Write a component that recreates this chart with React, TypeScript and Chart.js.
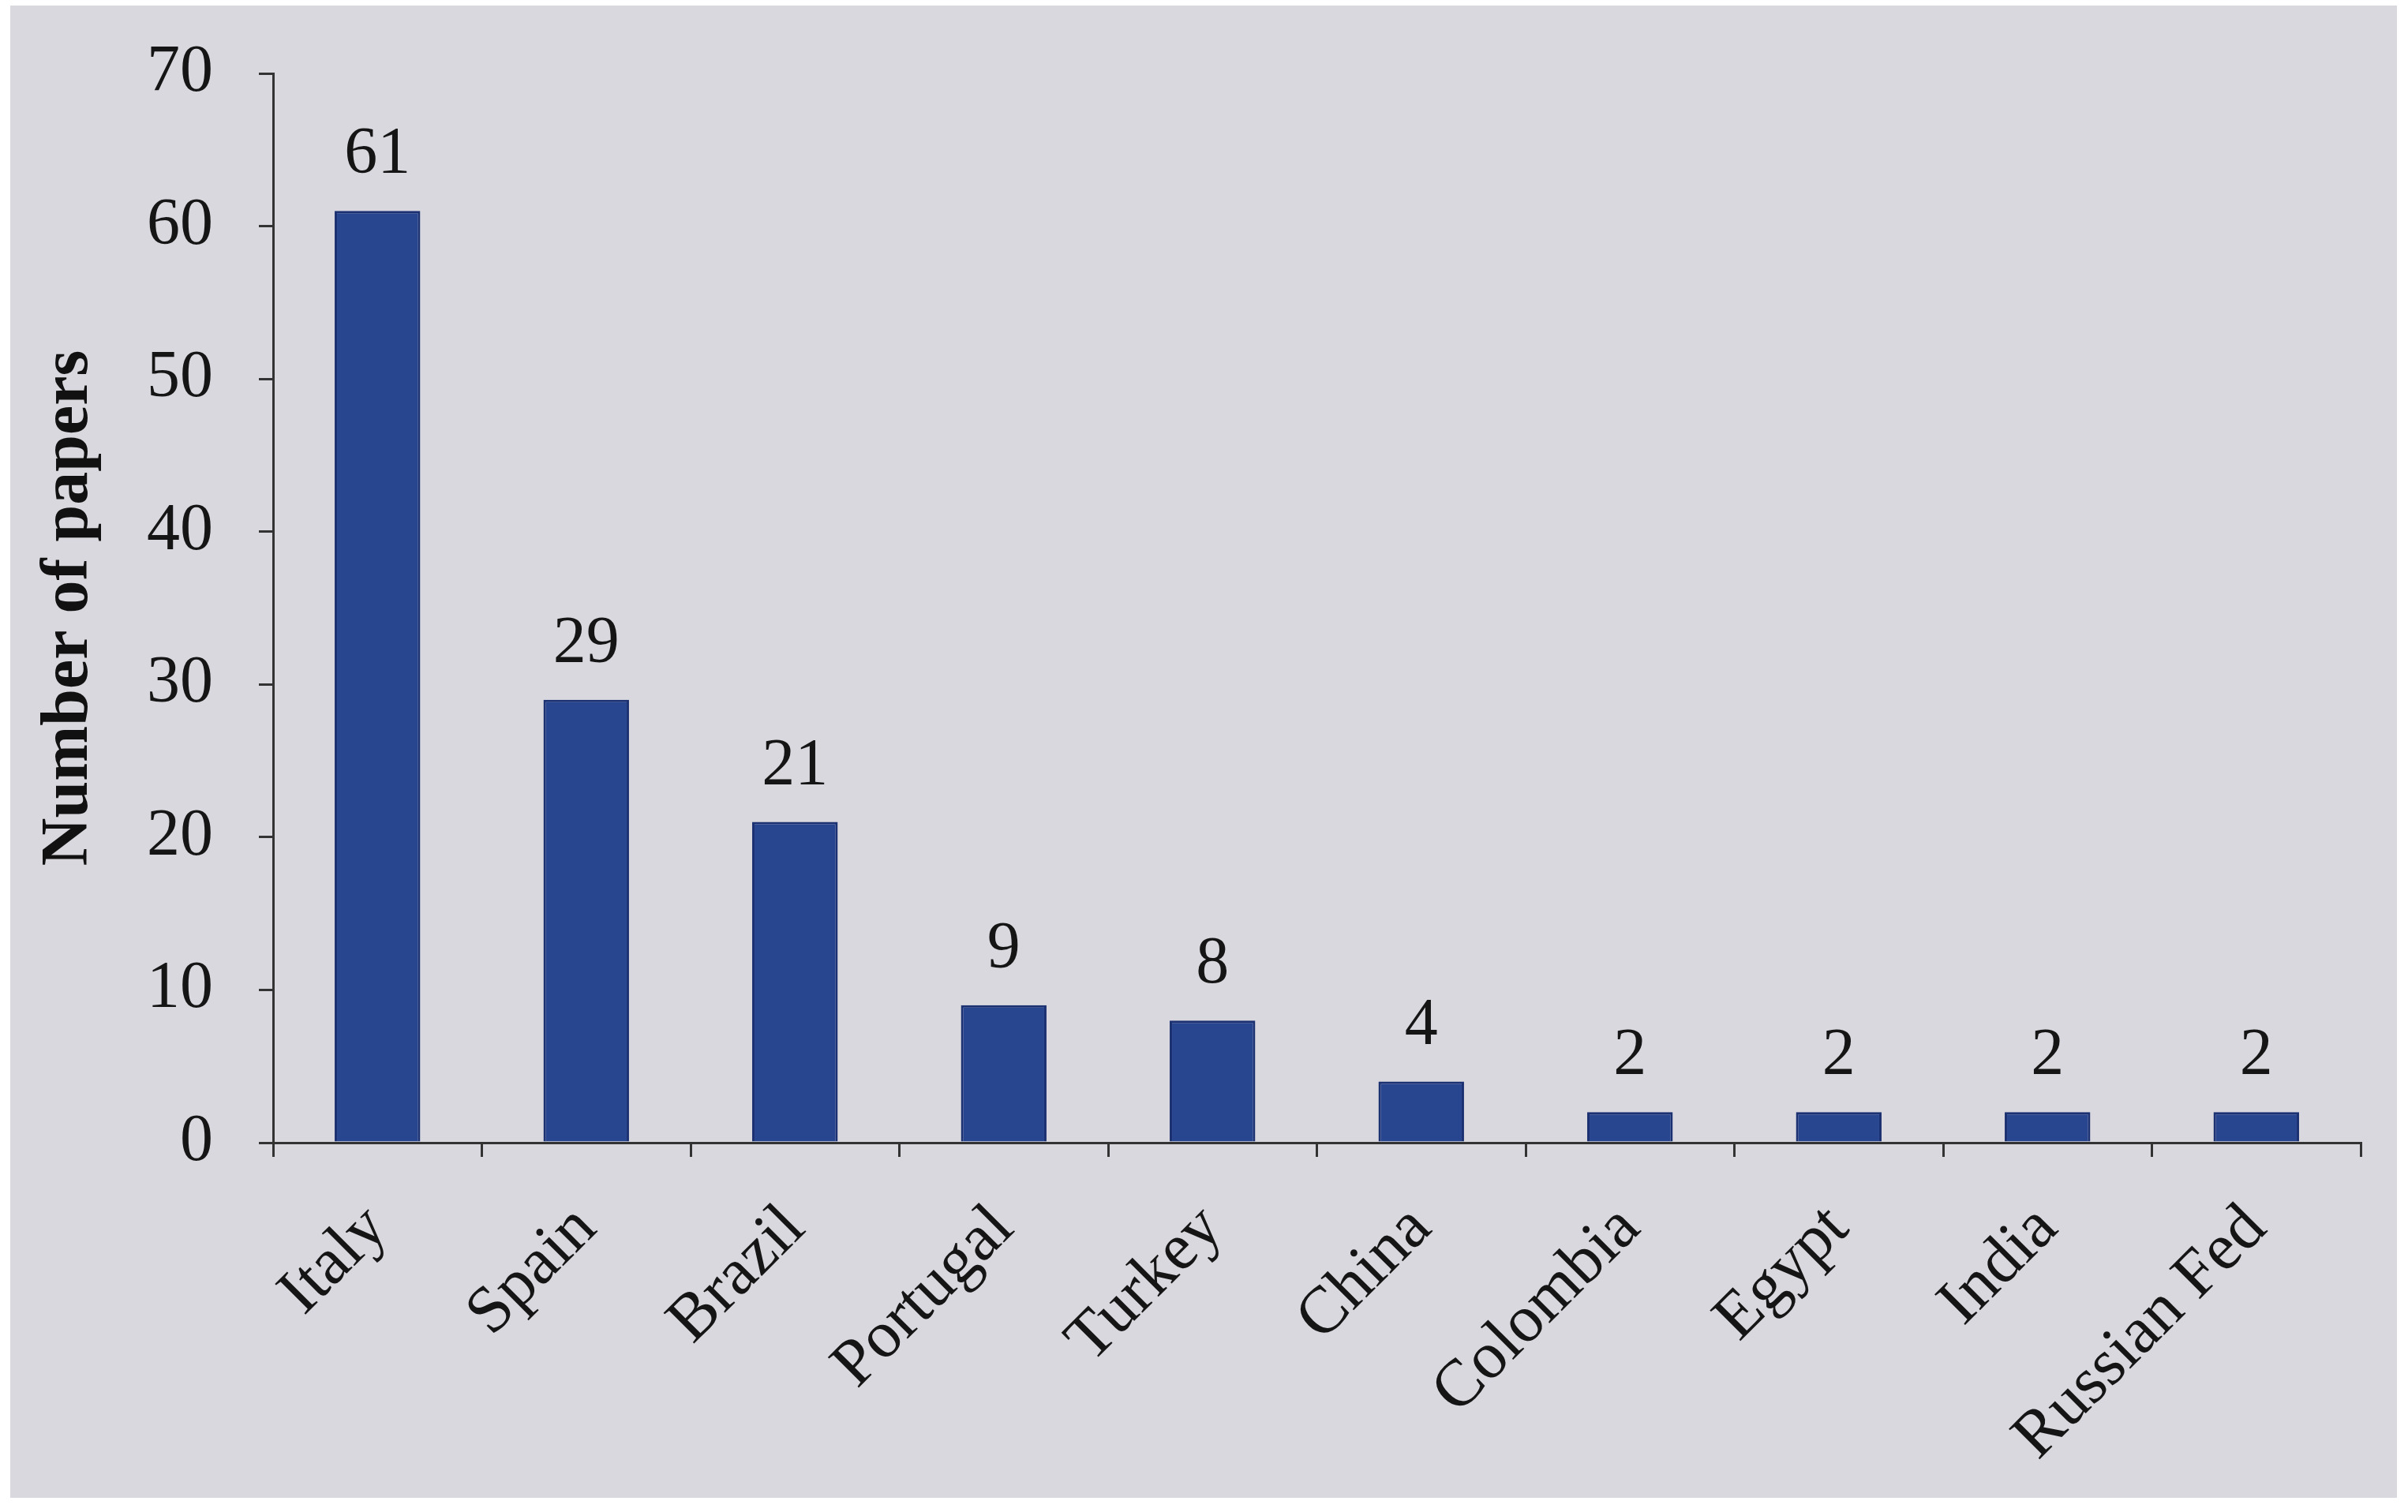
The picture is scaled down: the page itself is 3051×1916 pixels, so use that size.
import React, { useEffect, useRef } from "react";
import { Chart, registerables } from "chart.js";

Chart.register(...registerables);

const countries = [
  "Italy",
  "Spain",
  "Brazil",
  "Portugal",
  "Turkey",
  "China",
  "Colombia",
  "Egypt",
  "India",
  "Russian Fed",
];
const papers = [61, 29, 21, 9, 8, 4, 2, 2, 2, 2];
const yTicks = [0, 10, 20, 30, 40, 50, 60, 70];
const yAxisTitle = "Number of papers";

const W = 3051;
const H = 1916;
const FONT = "'Liberation Serif', 'Times New Roman', serif";

export default function App() {
  const ref = useRef<HTMLCanvasElement | null>(null);

  useEffect(() => {
    if (!ref.current) return;
    const paperBg = {
      id: "paperBg",
      beforeDraw(chart: any) {
        const c = chart.ctx;
        c.save();
        c.fillStyle = "#ffffff";
        c.fillRect(0, 0, W, H);
        c.fillStyle = "#d8d8de";
        c.fillRect(13, 7, 3024, 1891);
        c.restore();
      },
    };
    const valueLabels = {
      id: "valueLabels",
      afterDatasetsDraw(chart: any) {
        const meta = chart.getDatasetMeta(0);
        const c = chart.ctx;
        c.save();
        c.font = `84px ${FONT}`;
        c.fillStyle = "#151515";
        c.textAlign = "center";
        c.textBaseline = "alphabetic";
        meta.data.forEach((el: any, i: number) => {
          c.fillText(String(papers[i]), el.x, el.y - 48);
        });
        c.restore();
      },
    };

    const chart = new Chart(ref.current, {
      type: "bar",
      data: {
        labels: countries,
        datasets: [
          {
            data: papers,
            backgroundColor: "#28458f",
            borderColor: "#1c3171",
            borderWidth: 3,
            barPercentage: 0.41,
            categoryPercentage: 1,
          },
        ],
      },
      options: {
        animation: false,
        responsive: false,
        layout: { padding: { left: 0, top: 93, right: 60, bottom: 0 } },
        plugins: {
          legend: { display: false },
          tooltip: { enabled: false },
        },
        scales: {
          x: {
            grid: {
              display: true,
              drawOnChartArea: false,
              drawTicks: true,
              tickLength: 18,
              color: "#333333",
              lineWidth: 3,
            },
            border: { display: true, color: "#333333", width: 3 },
            ticks: {
              color: "#151515",
              font: { family: FONT, size: 84 },
              minRotation: 45,
              maxRotation: 45,
              padding: 42,
            },
            afterFit: (s: any) => {
              s.height = H - 1448;
              s.paddingLeft = 0;
              s.paddingRight = 0;
            },
          },
          y: {
            min: 0,
            max: 70,
            afterBuildTicks: (s: any) => {
              s.ticks = yTicks.map((v) => ({ value: v }));
            },
            grid: {
              display: true,
              drawOnChartArea: false,
              drawTicks: true,
              tickLength: 18,
              color: "#333333",
              lineWidth: 3,
            },
            border: { display: true, color: "#333333", width: 3 },
            ticks: {
              color: "#151515",
              font: { family: FONT, size: 84 },
              padding: 58,
            },
            title: {
              display: true,
              text: yAxisTitle,
              color: "#111111",
              font: { family: FONT, size: 84, weight: "bold" },
              padding: { top: 38, bottom: 0 },
            },
            afterFit: (s: any) => {
              s.width = 346;
              s.paddingTop = 0;
              s.paddingBottom = 0;
            },
          },
        },
      },
      plugins: [paperBg, valueLabels],
    });
    return () => chart.destroy();
  }, []);

  return (
    <div style={{ position: "absolute", left: 0, top: 0, width: W, height: H }}>
      <canvas ref={ref} width={W} height={H} style={{ width: W, height: H, display: "block" }} />
    </div>
  );
}
